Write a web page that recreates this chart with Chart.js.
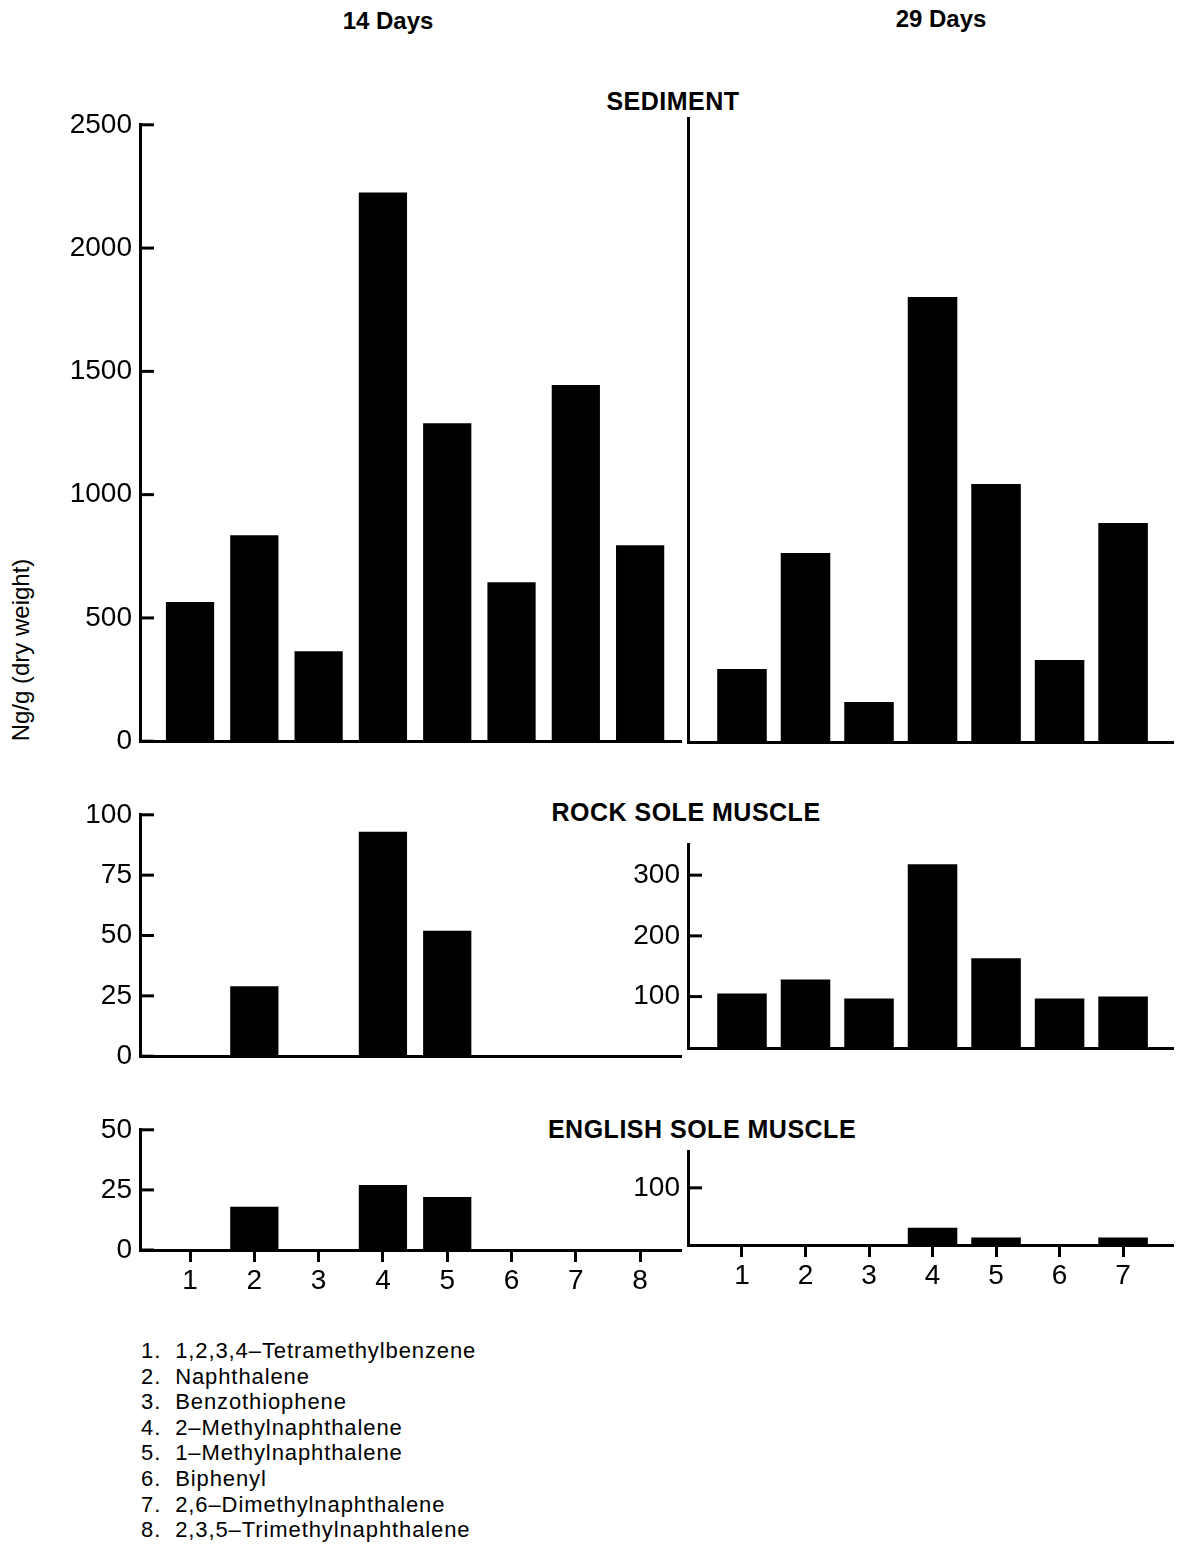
<!DOCTYPE html>
<html>
<head>
<meta charset="utf-8">
<script src="https://cdn.jsdelivr.net/npm/chart.js@4.4.0/dist/chart.umd.min.js"></script>
<style>
  body { margin: 0; background: #fff; width: 1177px; height: 1548px; position: relative; overflow: hidden;
         font-family: "Liberation Sans", Arial, sans-serif; color: #000; }
  .t { position: absolute; font-weight: bold; white-space: nowrap; transform: translate(-50%, -50%); }
  canvas { position: absolute; }
  #ylabel { position: absolute; left: 21px; top: 650px; font-size: 24px; white-space: nowrap;
            transform: translate(-50%, -50%) rotate(-90deg); }
  #legend { position: absolute; left: 141px; top: 1338px; font-size: 22px; line-height: 25.6px; letter-spacing: 0.9px; }
</style>
</head>
<body>
<div class="t" style="left:388px;top:21px;font-size:24px">14 Days</div>
<div class="t" style="left:941px;top:19px;font-size:24px">29 Days</div>
<div class="t" style="left:673px;top:101px;font-size:25px;letter-spacing:0.5px">SEDIMENT</div>
<div class="t" style="left:686px;top:812px;font-size:25px;letter-spacing:0.5px">ROCK SOLE MUSCLE</div>
<div class="t" style="left:702px;top:1129px;font-size:25px;letter-spacing:0.5px">ENGLISH SOLE MUSCLE</div>
<div id="ylabel">Ng/g (dry weight)</div>
<div id="legend"></div>

<script>
// compound numbers on the x axis
const cats14 = [1, 2, 3, 4, 5, 6, 7, 8];
const cats29 = [1, 2, 3, 4, 5, 6, 7];

const compounds = [
  '1,2,3,4–Tetramethylbenzene',
  'Naphthalene',
  'Benzothiophene',
  '2–Methylnaphthalene',
  '1–Methylnaphthalene',
  'Biphenyl',
  '2,6–Dimethylnaphthalene',
  '2,3,5–Trimethylnaphthalene'
];

// Ng/g (dry weight)
const sediment14 = [565, 835, 365, 2225, 1290, 645, 1445, 795];
const sediment29 = [292, 757, 160, 1783, 1034, 329, 877];
const rockSole14 = [0, 29, 0, 93, 52, 0, 0, 0];
const rockSole29 = [105, 128, 97, 318, 163, 97, 100];
const englishSole14 = [0, 18, 0, 27, 22, 0, 0, 0];
const englishSole29 = [0, 0, 0, 30, 13, 0, 13];

// y tick values
const sedimentTicks = [0, 500, 1000, 1500, 2000, 2500];
const rock14Ticks = [0, 25, 50, 75, 100];
const rock29Ticks = [100, 200, 300];
const english14Ticks = [0, 25, 50];
const english29Ticks = [100];

document.getElementById('legend').innerHTML =
  compounds.map((c, i) => `${i + 1}.&nbsp; ${c}`).join('<br>');

Chart.defaults.font.family = '"Liberation Sans", Arial, sans-serif';
Chart.defaults.color = '#000';

const Y_AXIS_W = 100, PAD_TOP = 20, PAD_RIGHT = 10;

// short tick marks pointing into the plot, like the original
function inwardTicks(show) {
  return {
    id: 'inwardTicks',
    afterDraw(chart) {
      if (!show) return;
      const y = chart.scales.y, ctx = chart.ctx, left = chart.chartArea.left;
      ctx.save();
      ctx.strokeStyle = '#000';
      ctx.lineWidth = 3;
      y.ticks.forEach(t => {
        const py = y.getPixelForValue(t.value);
        ctx.beginPath();
        ctx.moveTo(left, py);
        ctx.lineTo(left + 14, py);
        ctx.stroke();
      });
      ctx.restore();
    }
  };
}

function panel(p) {
  const xH = p.xLabels ? 50 : 20;
  const w = Y_AXIS_W + (p.right - p.left) + PAD_RIGHT;
  const h = PAD_TOP + (p.bottom - p.top) + xH;
  const canvas = document.createElement('canvas');
  canvas.width = w;
  canvas.height = h;
  canvas.style.left = (p.left - Y_AXIS_W) + 'px';
  canvas.style.top = (p.top - PAD_TOP) + 'px';
  canvas.style.width = w + 'px';
  canvas.style.height = h + 'px';
  document.body.appendChild(canvas);

  new Chart(canvas.getContext('2d'), {
    type: 'bar',
    data: {
      datasets: [{
        data: p.cats.map((c, i) => ({ x: c, y: p.values[i] })),
        backgroundColor: '#000',
        borderWidth: 0,
        barPercentage: p.barPct,
        categoryPercentage: 1,
        base: p.yMin
      }]
    },
    options: {
      responsive: false,
      animation: false,
      layout: { padding: { top: PAD_TOP, right: PAD_RIGHT, left: 0, bottom: 0 } },
      plugins: { legend: { display: false }, tooltip: { enabled: false } },
      scales: {
        x: {
          type: 'linear',
          offset: false,
          min: p.xMin,
          max: p.xMax,
          afterBuildTicks: s => { s.ticks = p.cats.map(v => ({ value: v })); },
          afterFit: s => { s.height = xH; },
          grid: { display: p.xLabels, offset: false, drawOnChartArea: false, tickLength: 12, lineWidth: 3, color: '#000' },
          border: { display: true, width: 3, color: '#000' },
          ticks: { display: p.xLabels, font: { size: 28 }, padding: 2, color: '#000', autoSkip: false, maxRotation: 0,
                   callback: v => String(v) }
        },
        y: {
          min: p.yMin,
          max: p.yMax,
          afterBuildTicks: s => { s.ticks = p.yTicks.map(v => ({ value: v })); },
          afterFit: s => { s.width = Y_AXIS_W; },
          grid: { display: false, drawTicks: false },
          border: { display: true, width: 3, color: '#000' },
          ticks: { display: p.yLabels, font: { size: 28 }, padding: 8, color: '#000', callback: v => String(v) }
        }
      }
    },
    plugins: [inwardTicks(p.yLabels)]
  });
}

const left14 = { left: 140, right: 680, xMin: 0.222, xMax: 8.62, cats: cats14, barPct: 0.75 };
const right29 = { left: 688, right: 1172, xMin: 0.15, xMax: 7.77, cats: cats29, barPct: 0.78 };

panel({ ...left14, top: 120, bottom: 746, yMin: 0, yMax: 2500, yTicks: sedimentTicks, yLabels: true, xLabels: false, values: sediment14 });
panel({ ...right29, top: 118, bottom: 742, yMin: 0, yMax: 2500, yTicks: sedimentTicks, yLabels: false, xLabels: false, values: sediment29 });
panel({ ...left14, top: 810, bottom: 1061, yMin: 0, yMax: 100, yTicks: rock14Ticks, yLabels: true, xLabels: false, values: rockSole14 });
panel({ ...right29, top: 840, bottom: 1053, yMin: 15, yMax: 350, yTicks: rock29Ticks, yLabels: true, xLabels: false, values: rockSole29 });
panel({ ...left14, top: 1125, bottom: 1250, yMin: 0, yMax: 50, yTicks: english14Ticks, yLabels: true, xLabels: true, values: englishSole14 });
panel({ ...right29, top: 1147, bottom: 1245, yMin: 0, yMax: 163, yTicks: english29Ticks, yLabels: true, xLabels: true, values: englishSole29 });
</script>
</body>
</html>
